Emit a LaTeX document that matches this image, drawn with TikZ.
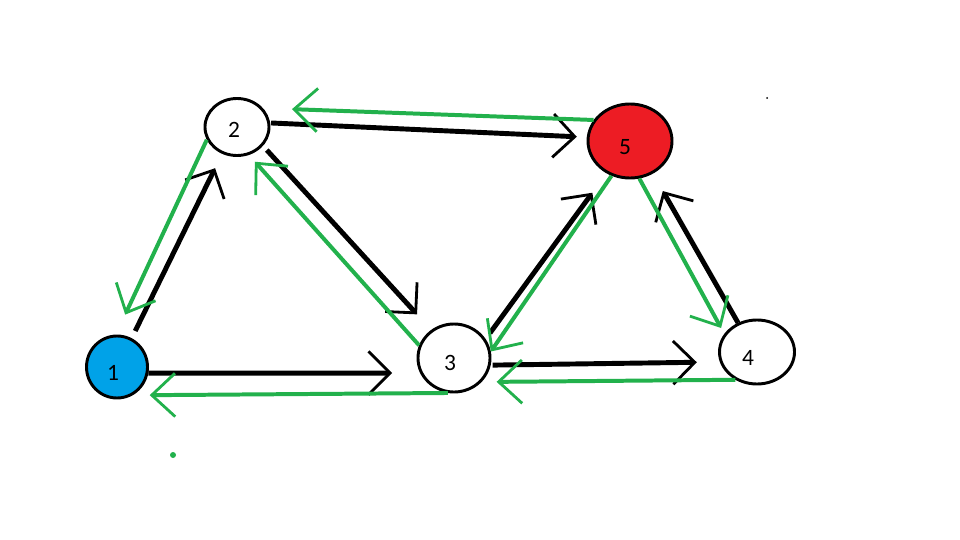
\documentclass[tikz,border=0pt]{standalone}
\usepackage{fontspec}
\setmainfont{Carlito}
\usepackage{xcolor}
\usepackage{tikz}
\usetikzlibrary{shapes.geometric, arrows.meta}

\definecolor{paintblue}{HTML}{00A2E8}
\definecolor{paintred}{HTML}{ED1C24}
\definecolor{paintgreen}{HTML}{22B14C}

\begin{document}
\begin{tikzpicture}[
  x=0.03cm, y=-0.03cm,
  every node/.style={font=\fontsize{20}{24}\selectfont},
  vertex/.style={ellipse, draw=black, line width=2.5pt, fill=white, inner sep=0pt},
  fwd/.style={draw=black, line width=4.2pt, -{Straight Barb[length=6.5mm, width=13mm, line width=2.4pt]}},
  back/.style={draw=paintgreen, line width=3.4pt, -{Straight Barb[length=7mm, width=13mm, line width=2.4pt]}}
]
\useasboundingbox (0,0) rectangle (960,540);

% Vertices
\node[vertex, fill=paintblue, minimum width=1.83cm, minimum height=1.86cm, label={[xshift=-0.12cm, yshift=-0.18cm]center:1}] (n1) at (117,367) {};
\node[vertex, minimum width=1.92cm, minimum height=1.71cm, label={[xshift=-0.09cm, yshift=-0.09cm]center:2}] (n2) at (237,127) {};
\node[vertex, minimum width=2.16cm, minimum height=2.04cm, label={[xshift=-0.12cm, yshift=-0.15cm]center:3}] (n3) at (454,358) {};
\node[vertex, minimum width=2.25cm, minimum height=1.92cm, label={[xshift=-0.27cm, yshift=-0.18cm]center:4}] (n4) at (757,352) {};
\node[vertex, fill=paintred, minimum width=2.52cm, minimum height=2.22cm, label={[xshift=-0.15cm, yshift=-0.18cm]center:5}] (n5) at (630,141) {};

% Forward edges
\draw[fwd, shorten <=2.4mm, shorten >=4.8mm] (n1.63) -- (n2.241);
\draw[fwd, shorten >=8.4mm] (n1.-11) -- (n3.204);
\draw[fwd, shorten <=1.7mm, shorten >=6.3mm] (n2.-36) -- (n3.129);
\draw[fwd, shorten <=0.3mm, shorten >=3mm] (n2.7) -- (n5.175);
\draw[fwd, shorten <=2.2mm, shorten >=7.2mm] (n3.31) -- (n5.234);
\draw[fwd, shorten <=0.6mm, shorten >=6.9mm] (n3.-11) -- (n4.195);
\draw[fwd, shorten >=6mm] (n4.123) -- (n5.-55);

% Backward edges
\draw[back, shorten >=6.6mm] (n2.203) -- (n1.92);
\draw[back, shorten >=5.1mm] (n3.260) -- (n1.-61);
\draw[back, shorten >=2.7mm] (n3.160) -- (n2.-67);
\draw[back, shorten >=8.7mm] (n5.150) -- (n2.36);
\draw[back] (n5.242) -- (n3.10);
\draw[back, shorten >=4.5mm] (n4.232) -- (n3.-41);
\draw[back, shorten >=2mm] (n5.-76) -- (n4.151);

% stray dots
\fill[paintgreen] (173,455) circle[radius=0.09cm];
\fill[black] (767,98) circle[radius=0.03cm];

\end{tikzpicture}
\end{document}
